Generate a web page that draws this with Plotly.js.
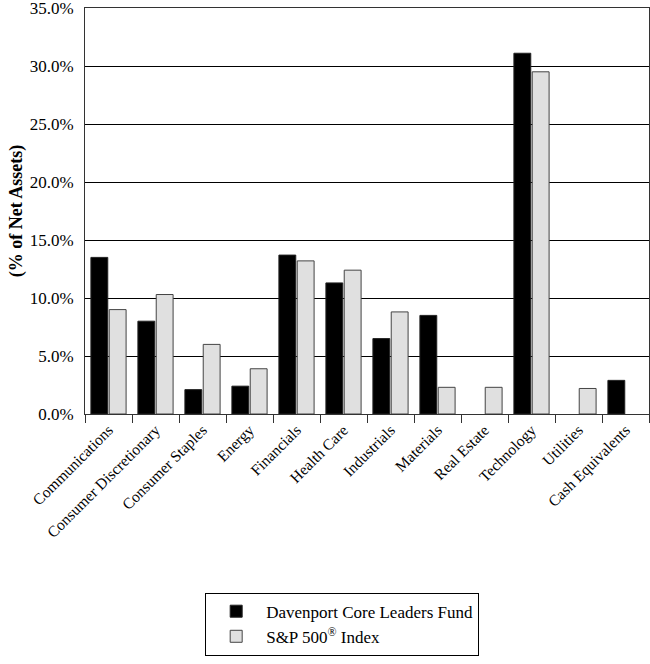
<!DOCTYPE html>
<html>
<head>
<meta charset="utf-8">
<script src="https://cdn.plot.ly/plotly-3.0.1.min.js"></script>
<style>
  html, body { margin: 0; padding: 0; background: #fff; }
  #plot { width: 650px; height: 664px; }
</style>
</head>
<body>
<div id="plot"></div>
<script>
const sectors = ['Communications', 'Consumer Discretionary', 'Consumer Staples', 'Energy',
    'Financials', 'Health Care', 'Industrials', 'Materials', 'Real Estate',
    'Technology', 'Utilities', 'Cash Equivalents'];
const fundValues = [13.5, 8.0, 2.1, 2.4, 13.7, 11.3, 6.5, 8.5, null, 31.1, null, 2.9];
const indexValues = [9.0, 10.3, 6.0, 3.9, 13.2, 12.4, 8.8, 2.3, 2.3, 29.5, 2.2, null];
const yTicks = [0, 5, 10, 15, 20, 25, 30, 35];
const yTickLabels = ['0.0%', '5.0%', '10.0%', '15.0%', '20.0%', '25.0%', '30.0%', '35.0%'];

const serif = '"Liberation Serif", "Times New Roman", serif';

const fundTrace = {
    type: 'bar',
    x: sectors,
    y: fundValues,
    name: 'Davenport Core Leaders Fund',
    marker: { color: '#000000', line: { color: '#222222', width: 1 } },
    hoverinfo: 'x+y'
};

const indexTrace = {
    type: 'bar',
    x: sectors,
    y: indexValues,
    name: 'S&amp;P 500<sup>®</sup> Index',
    marker: { color: '#e0e0e0', line: { color: '#444444', width: 1 } },
    hoverinfo: 'x+y'
};

const layout = {
    width: 650,
    height: 664,
    margin: { l: 85, r: 1, t: 8, b: 250 },
    paper_bgcolor: '#ffffff',
    plot_bgcolor: '#ffffff',
    font: { family: serif, color: '#000000' },
    barmode: 'group',
    bargap: 0.22,
    bargroupgap: 0.08,
    showlegend: true,
    legend: {
        orientation: 'v',
        x: 0.456,
        xanchor: 'center',
        y: -0.44,
        yanchor: 'top',
        bordercolor: '#000000',
        borderwidth: 1,
        font: { family: serif, size: 17, color: '#000000' },
        itemwidth: 50,
        tracegroupgap: 5
    },
    xaxis: {
        type: 'category',
        tickangle: -45,
        tickson: 'boundaries',
        ticks: 'outside',
        ticklen: 8,
        tickcolor: '#333333',
        tickfont: { family: serif, size: 15.5, color: '#000000' },
        showline: true,
        linecolor: '#333333',
        linewidth: 1,
        mirror: true,
        showgrid: false,
        fixedrange: true
    },
    yaxis: {
        range: [0, 35],
        tickvals: yTicks,
        ticktext: yTickLabels,
        tickfont: { family: serif, size: 17, color: '#000000' },
        ticks: '',
        ticklabelstandoff: 7,
        ticklabeloverflow: 'allow',
        showgrid: true,
        gridcolor: '#000000',
        gridwidth: 1,
        showline: true,
        linecolor: '#333333',
        linewidth: 1,
        mirror: true,
        zeroline: false,
        title: {
            text: '<b>(% of Net Assets)</b>',
            font: { family: serif, size: 18, color: '#000000' },
            standoff: 2
        },
        fixedrange: true
    }
};

Plotly.newPlot('plot', [fundTrace, indexTrace], layout, { displayModeBar: false, staticPlot: true });
</script>
</body>
</html>
